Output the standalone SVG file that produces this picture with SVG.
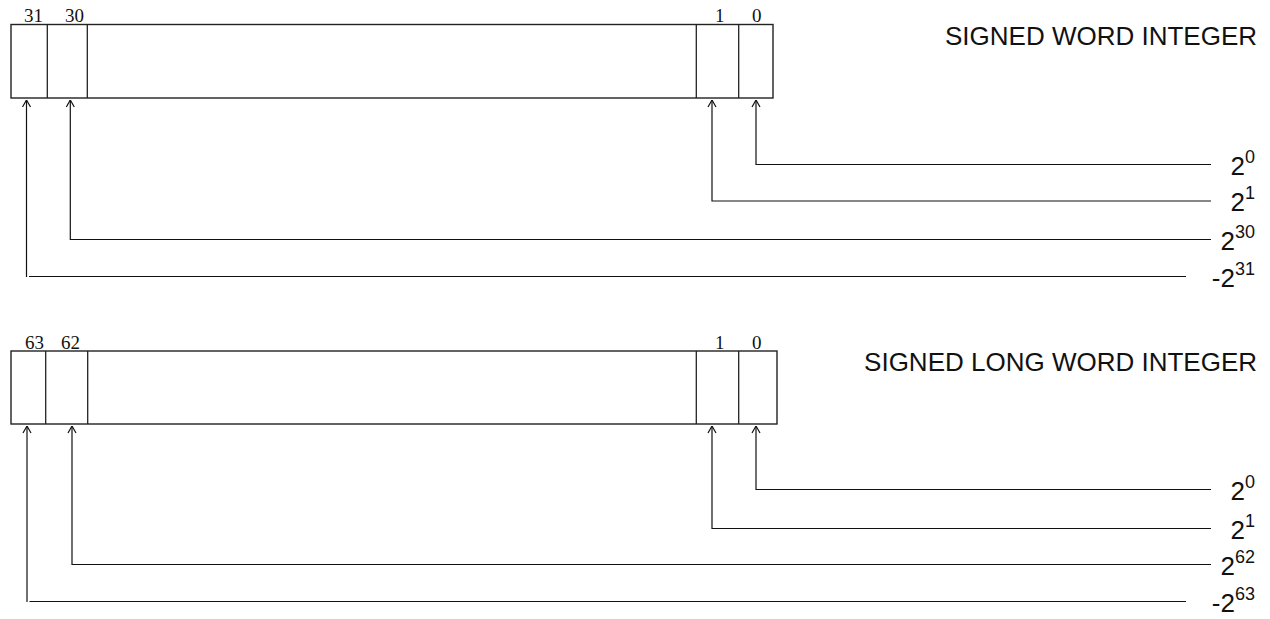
<svg xmlns="http://www.w3.org/2000/svg" width="1270" height="619" viewBox="0 0 1270 619">
<defs>
<style>
.box{fill:none;stroke:#222;stroke-width:1.4}
.div{stroke:#222;stroke-width:1.3}
.conn{fill:none;stroke:#111;stroke-width:1.2}
.bit{font-family:"Liberation Serif","Times New Roman",serif;font-size:19px;fill:#111}
.title{font-family:"Liberation Sans",Arial,sans-serif;font-size:26px;fill:#111}
.lbl{font-family:"Liberation Sans",Arial,sans-serif;font-size:26px;fill:#111}
.sup{font-size:18px}
</style>
<marker id="arr" viewBox="0 0 10 10" refX="9.5" refY="5" markerWidth="10" markerHeight="10" markerUnits="userSpaceOnUse" orient="auto">
<path d="M2.5,1 L9.5,5 L2.5,9" fill="none" stroke="#111" stroke-width="1.2"/>
</marker>
</defs>
<rect width="1270" height="619" fill="#fff"/>

<g id="word-register">
<rect class="box" x="11" y="24.5" width="762" height="73.5"/>
<line class="div" x1="47.3" y1="24.5" x2="47.3" y2="98"/>
<line class="div" x1="87.3" y1="24.5" x2="87.3" y2="98"/>
<line class="div" x1="696.3" y1="24.5" x2="696.3" y2="98"/>
<line class="div" x1="738.7" y1="24.5" x2="738.7" y2="98"/>
<text class="bit" x="24" y="22">31</text>
<text class="bit" x="65" y="22">30</text>
<text class="bit" x="715" y="22">1</text>
<text class="bit" x="752" y="22">0</text>
</g>
<g id="word-title"><text class="title" x="1257" y="45" text-anchor="end">SIGNED WORD INTEGER</text></g>

<g id="long-register">
<rect class="box" x="11" y="351" width="766" height="73"/>
<line class="div" x1="45.7" y1="351" x2="45.7" y2="424"/>
<line class="div" x1="87.7" y1="351" x2="87.7" y2="424"/>
<line class="div" x1="696.3" y1="351" x2="696.3" y2="424"/>
<line class="div" x1="738.7" y1="351" x2="738.7" y2="424"/>
<text class="bit" x="25" y="348.5">63</text>
<text class="bit" x="61" y="348.5">62</text>
<text class="bit" x="715" y="348.5">1</text>
<text class="bit" x="752" y="348.5">0</text>
</g>
<g id="long-title"><text class="title" x="1257" y="371" text-anchor="end">SIGNED LONG WORD INTEGER</text></g>

<g id="connectors">
<path class="conn" marker-end="url(#arr)" d="M1211,164.5 H756 V100"/>
<path class="conn" marker-end="url(#arr)" d="M1211,201 H712 V100"/>
<path class="conn" marker-end="url(#arr)" d="M1211,239.5 H70.3 V100"/>
<path class="conn" marker-end="url(#arr)" d="M26.5,277 V100"/>
<line class="conn" x1="29" y1="276.5" x2="1186" y2="276.5"/>

<path class="conn" marker-end="url(#arr)" d="M1211,489.5 H756 V426"/>
<path class="conn" marker-end="url(#arr)" d="M1211,528.5 H712 V426"/>
<path class="conn" marker-end="url(#arr)" d="M1211,564.5 H72 V426"/>
<path class="conn" marker-end="url(#arr)" d="M27,602 V426"/>
<line class="conn" x1="29.5" y1="601.5" x2="1186" y2="601.5"/>
</g>

<g id="word-labels">
<text class="lbl" x="1255" y="174.5" text-anchor="end">2<tspan class="sup" dy="-12">0</tspan></text>
<text class="lbl" x="1255" y="211" text-anchor="end">2<tspan class="sup" dy="-12">1</tspan></text>
<text class="lbl" x="1255" y="249.5" text-anchor="end">2<tspan class="sup" dy="-12">30</tspan></text>
<text class="lbl" x="1255" y="287" text-anchor="end">-2<tspan class="sup" dy="-12">31</tspan></text>
</g>
<g id="long-labels">
<text class="lbl" x="1255" y="499.5" text-anchor="end">2<tspan class="sup" dy="-12">0</tspan></text>
<text class="lbl" x="1255" y="538.5" text-anchor="end">2<tspan class="sup" dy="-12">1</tspan></text>
<text class="lbl" x="1255" y="574.5" text-anchor="end">2<tspan class="sup" dy="-12">62</tspan></text>
<text class="lbl" x="1255" y="611.5" text-anchor="end">-2<tspan class="sup" dy="-12">63</tspan></text>
</g>
</svg>
